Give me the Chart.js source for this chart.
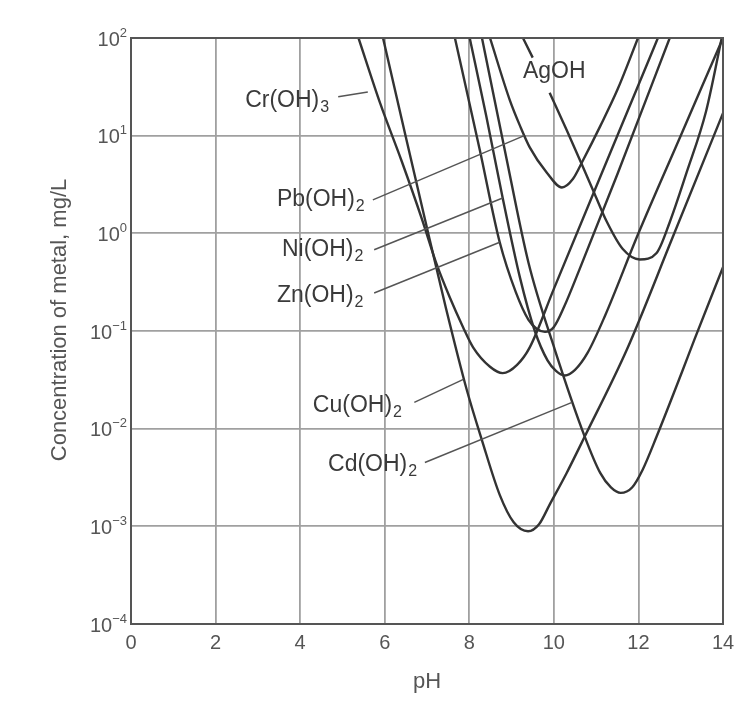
<!DOCTYPE html>
<html>
<head>
<meta charset="utf-8">
<script src="https://cdn.jsdelivr.net/npm/chart.js@4.4.1/dist/chart.umd.min.js"></script>
<style>
  body { margin: 0; background: #fff; }
  canvas { display: block; }
</style>
</head>
<body>
<canvas id="chart" width="740" height="709"></canvas>
<script>
// pH values and metal concentration (mg/L)
const crPH   = [5.38, 5.9, 6.4, 6.88, 7.23, 7.54, 7.85, 8.09, 8.49, 8.79, 9.13, 9.43, 10.0, 11.0, 12.0, 12.46];
const crConc = [100, 21, 5.5, 1.4, 0.48, 0.22, 0.11, 0.068, 0.043, 0.037, 0.045, 0.068, 0.27, 3.0, 33, 100];

const cuPH   = [5.96, 6.45, 6.95, 7.45, 7.94, 8.3, 8.72, 9.05, 9.39, 9.65, 9.91, 10.3, 10.73, 11.73, 12.8, 14];
const cuConc = [100, 12, 1.4, 0.17, 0.025, 0.0076, 0.0021, 0.0011, 0.00089, 0.00105, 0.0017, 0.0035, 0.0083, 0.065, 0.89, 17];

const znPH   = [7.66, 8.25, 8.72, 9.1, 9.4, 9.6, 9.79, 10.0, 10.25, 10.6, 11.5, 12.74];
const znConc = [100, 7.1, 0.81, 0.25, 0.13, 0.105, 0.098, 0.11, 0.18, 0.42, 4.0, 100];

const niPH   = [8.01, 8.4, 8.79, 9.2, 9.55, 9.85, 10.05, 10.26, 10.5, 10.8, 11.2, 12.0, 13.0, 14.0];
const niConc = [100, 16, 2.3, 0.35, 0.1, 0.05, 0.039, 0.035, 0.04, 0.06, 0.14, 1.0, 10, 100];

const cdPH   = [8.3, 8.84, 9.4, 10.02, 10.73, 11.1, 11.35, 11.58, 11.85, 12.1, 12.43, 13.03, 13.33, 14];
const cdConc = [100, 7.1, 0.5, 0.065, 0.0083, 0.0035, 0.0025, 0.0022, 0.0025, 0.0038, 0.0083, 0.038, 0.083, 0.45];

const pbPH   = [8.49, 8.96, 9.2, 9.43, 9.83, 10.19, 10.45, 10.69, 11.1, 11.51, 11.99];
const pbConc = [100, 23, 12.6, 7.6, 4.2, 2.95, 3.6, 5.6, 12.6, 30, 100];

// gap (null) where the curve passes behind the "AgOH" label
const agPH   = [9.27, 9.5, 9.7, 9.9, 10.3, 10.66, 10.97, 11.25, 11.63, 12.03, 12.43, 12.74, 13.14, 13.6, 13.97];
const agConc = [100, 63, null, 27.5, 11.5, 5.1, 2.5, 1.32, 0.69, 0.54, 0.63, 1.3, 4.2, 17.8, 100];

const xTicks = [0, 2, 4, 6, 8, 10, 12, 14];
const yExponents = [2, 1, 0, -1, -2, -3, -4];

const curves = [
  ['Cr(OH)3', crPH, crConc],
  ['Cu(OH)2', cuPH, cuConc],
  ['Zn(OH)2', znPH, znConc],
  ['Ni(OH)2', niPH, niConc],
  ['Cd(OH)2', cdPH, cdConc],
  ['Pb(OH)2', pbPH, pbConc],
  ['AgOH', agPH, agConc]
];

// curve labels, placed in data units: text start, leader line from/to
const curveLabels = [
  { name: 'Cr(OH)', sub: '3', at: [2.7, 23],     from: [4.9, 25],    to: [5.6, 28] },
  { name: 'AgOH',   sub: '',  at: [9.27, 45] },
  { name: 'Pb(OH)', sub: '2', at: [3.45, 2.2],   from: [5.72, 2.2],   to: [9.3, 10] },
  { name: 'Ni(OH)', sub: '2', at: [3.57, 0.68],  from: [5.75, 0.68],  to: [8.79, 2.3] },
  { name: 'Zn(OH)', sub: '2', at: [3.45, 0.23],  from: [5.75, 0.245], to: [8.72, 0.81] },
  { name: 'Cu(OH)', sub: '2', at: [4.3, 0.0174], from: [6.7, 0.0186], to: [7.86, 0.032] },
  { name: 'Cd(OH)', sub: '2', at: [4.66, 0.0043], from: [6.95, 0.0045], to: [10.43, 0.0186] }
];

const FONT = '"Liberation Sans", Arial, sans-serif';

const textPlugin = {
  id: 'texts',
  afterDraw(chart) {
    const { ctx, chartArea: a } = chart;
    const x = chart.scales.x, y = chart.scales.y;
    ctx.save();

    // plot frame
    ctx.strokeStyle = '#555';
    ctx.lineWidth = 2;
    ctx.strokeRect(a.left, a.top, a.right - a.left, a.bottom - a.top);

    // y tick labels 10^n
    ctx.fillStyle = '#555';
    ctx.textBaseline = 'middle';
    yExponents.forEach(e => {
      const py = y.getPixelForValue(Math.pow(10, e));
      const exp = e < 0 ? '\u2212' + Math.abs(e) : String(e);
      ctx.font = '13px ' + FONT;
      const ew = ctx.measureText(exp).width;
      ctx.textAlign = 'right';
      ctx.fillText(exp, a.left - 4, py - 5);
      ctx.font = '20px ' + FONT;
      ctx.fillText('10', a.left - 4 - ew, py + 2);
    });

    // x tick labels
    ctx.font = '20px ' + FONT;
    ctx.textAlign = 'center';
    xTicks.forEach(v => ctx.fillText(String(v), x.getPixelForValue(v), 643));

    // axis titles
    ctx.font = '22px ' + FONT;
    ctx.fillText('pH', (a.left + a.right) / 2, 682);
    ctx.save();
    ctx.translate(60, 320);
    ctx.rotate(-Math.PI / 2);
    ctx.fillText('Concentration of metal, mg/L', 0, 0);
    ctx.restore();

    // curve labels with leaders
    ctx.fillStyle = '#3a3a3a';
    ctx.strokeStyle = '#555';
    ctx.lineWidth = 1.5;
    ctx.textAlign = 'left';
    curveLabels.forEach(l => {
      const px = x.getPixelForValue(l.at[0]);
      const py = y.getPixelForValue(l.at[1]);
      ctx.font = '23px ' + FONT;
      ctx.fillText(l.name, px, py);
      if (l.sub) {
        const w = ctx.measureText(l.name).width;
        ctx.font = '16px ' + FONT;
        ctx.fillText(l.sub, px + w + 1, py + 7);
      }
      if (l.from) {
        ctx.beginPath();
        ctx.moveTo(x.getPixelForValue(l.from[0]), y.getPixelForValue(l.from[1]));
        ctx.lineTo(x.getPixelForValue(l.to[0]), y.getPixelForValue(l.to[1]));
        ctx.stroke();
      }
    });
    ctx.restore();
  }
};

new Chart(document.getElementById('chart'), {
  type: 'line',
  data: {
    datasets: curves.map(([name, ph, conc]) => ({
      label: name,
      data: ph.map((p, i) => ({ x: p, y: conc[i] })),
      borderColor: '#333',
      borderWidth: 2.4,
      pointRadius: 0,
      fill: false,
      spanGaps: false,
      cubicInterpolationMode: 'monotone'
    }))
  },
  options: {
    responsive: false,
    animation: false,
    layout: { padding: { top: 38, right: 17, left: 0, bottom: 0 } },
    plugins: { legend: { display: false }, tooltip: { enabled: false } },
    scales: {
      x: {
        type: 'linear',
        min: 0,
        max: 14,
        afterBuildTicks: s => { s.ticks = xTicks.map(v => ({ value: v })); },
        ticks: { display: false },
        grid: { color: '#a0a0a0', lineWidth: 1.8, drawTicks: false },
        border: { display: false },
        afterFit: s => { s.height = 85; }
      },
      y: {
        type: 'logarithmic',
        min: 1e-4,
        max: 1e2,
        afterBuildTicks: s => { s.ticks = yExponents.map(e => ({ value: Math.pow(10, e) })); },
        ticks: { display: false },
        grid: { color: '#a0a0a0', lineWidth: 1.8, drawTicks: false },
        border: { display: false },
        afterFit: s => { s.width = 131; }
      }
    }
  },
  plugins: [textPlugin]
});
</script>
</body>
</html>
